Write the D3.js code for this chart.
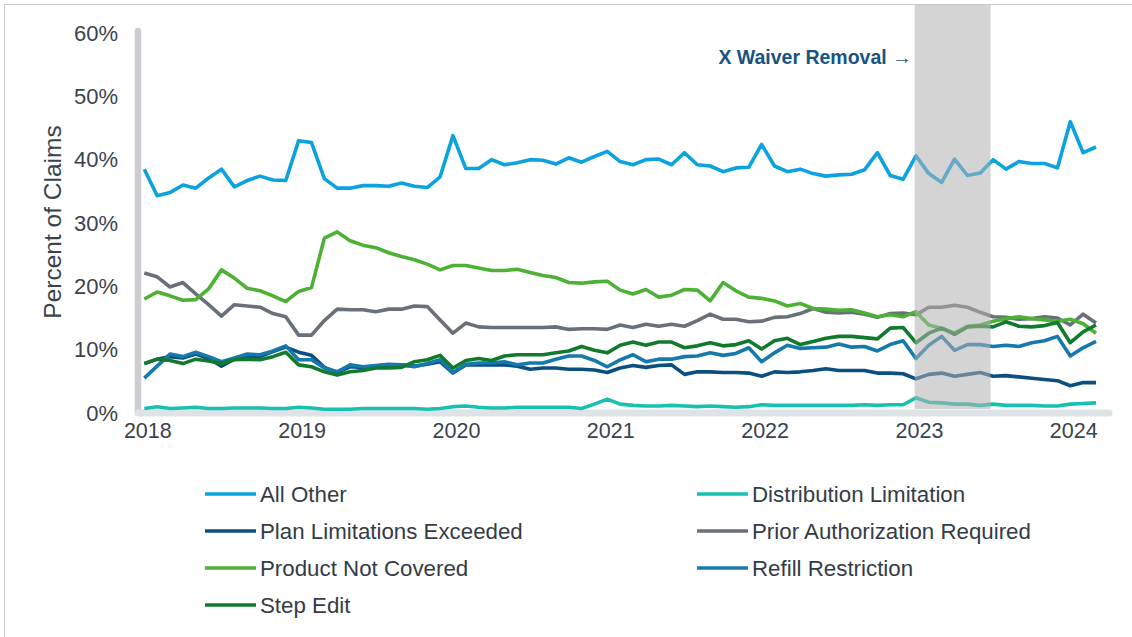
<!DOCTYPE html>
<html>
<head>
<meta charset="utf-8">
<script src="https://cdn.jsdelivr.net/npm/d3@7"></script>
<style>
  body { margin: 0; background: #fff; }
  svg { display: block; font-family: 'Liberation Sans', Arial, sans-serif; }
</style>
</head>
<body>
<div id="chart"></div>
<script>
// Monthly, Jan 2018 .. Mar 2024 (75 months), percent of claims
var yearLabels = ['2018', '2019', '2020', '2021', '2022', '2023', '2024'];
var yTicks = [0, 10, 20, 30, 40, 50, 60];

var allOther = [38.5,34.3,34.8,36.0,35.5,37.1,38.5,35.7,36.7,37.4,36.8,36.7,43.0,42.7,37.0,35.5,35.5,35.9,35.9,35.8,
  36.3,35.8,35.6,37.3,43.8,38.6,38.6,40.0,39.2,39.5,40.0,39.9,39.3,40.3,39.6,40.5,41.3,39.7,39.2,40.0,
  40.1,39.2,41.1,39.2,39.0,38.1,38.7,38.8,42.4,39.0,38.1,38.5,37.8,37.4,37.6,37.7,38.4,41.1,37.5,36.9,
  40.6,37.8,36.4,40.1,37.5,37.9,40.0,38.5,39.7,39.4,39.4,38.7,46.0,41.1,42.0];

var distributionLimitation = [0.7,1.0,0.7,0.8,0.9,0.7,0.7,0.8,0.8,0.8,0.7,0.7,0.9,0.8,0.6,0.6,0.6,0.7,0.7,0.7,
  0.7,0.7,0.6,0.7,1.0,1.1,0.9,0.8,0.8,0.9,0.9,0.9,0.9,0.9,0.7,1.4,2.2,1.4,1.2,1.1,
  1.1,1.2,1.1,1.0,1.1,1.0,0.9,1.0,1.3,1.2,1.2,1.2,1.2,1.2,1.2,1.2,1.3,1.2,1.3,1.3,
  2.4,1.7,1.6,1.4,1.4,1.2,1.4,1.2,1.2,1.2,1.1,1.1,1.4,1.5,1.6];

var planLimitations = [7.8,8.5,8.9,8.7,9.3,8.6,7.4,8.5,8.9,8.9,9.7,10.4,9.6,9.1,7.2,6.4,7.3,7.2,7.4,7.6,
  7.6,7.4,7.7,8.1,6.3,7.6,7.6,7.6,7.6,7.4,6.9,7.1,7.1,6.9,6.9,6.8,6.4,7.1,7.5,7.2,
  7.5,7.6,6.1,6.5,6.5,6.4,6.4,6.3,5.8,6.5,6.4,6.5,6.7,7.0,6.7,6.7,6.7,6.3,6.3,6.2,
  5.4,6.1,6.3,5.8,6.1,6.4,5.8,5.9,5.7,5.5,5.3,5.1,4.3,4.8,4.8];

var priorAuthorization = [22.1,21.5,19.9,20.6,18.8,17.1,15.3,17.1,16.9,16.7,15.7,15.2,12.3,12.3,14.6,16.4,16.3,16.3,16.0,16.4,
  16.4,16.9,16.8,14.7,12.6,14.2,13.6,13.5,13.5,13.5,13.5,13.5,13.6,13.2,13.3,13.3,13.2,13.9,13.5,14.0,
  13.7,14.0,13.7,14.6,15.6,14.8,14.8,14.4,14.5,15.1,15.2,15.7,16.5,15.9,15.8,15.9,15.6,15.1,15.7,15.8,
  15.5,16.7,16.7,17.0,16.7,15.9,15.2,15.1,14.8,14.9,15.2,15.0,13.9,15.6,14.2];

var productNotCovered = [18.0,19.1,18.5,17.8,17.9,19.6,22.6,21.3,19.7,19.3,18.5,17.6,19.2,19.8,27.6,28.6,27.2,26.5,26.1,25.3,
  24.7,24.2,23.5,22.6,23.3,23.3,22.9,22.5,22.5,22.7,22.2,21.7,21.4,20.6,20.5,20.7,20.8,19.4,18.8,19.5,
  18.3,18.6,19.5,19.4,17.7,20.6,19.3,18.3,18.1,17.7,16.9,17.3,16.5,16.4,16.2,16.3,15.8,15.2,15.5,15.2,
  16.0,13.9,13.4,12.6,13.7,13.9,14.5,14.9,15.2,14.9,14.7,14.5,14.8,14.1,12.6];

var refillRestriction = [5.5,7.4,9.3,8.9,9.6,8.9,8.1,8.7,9.3,9.2,9.8,10.6,8.4,8.4,7.1,6.5,7.6,7.3,7.5,7.7,
  7.6,7.3,7.8,8.4,6.4,7.7,7.9,7.9,8.1,7.6,7.9,7.9,8.5,9.0,9.0,8.3,7.3,8.4,9.2,8.1,
  8.5,8.5,8.9,9.0,9.5,9.1,9.4,10.3,8.1,9.5,10.7,10.2,10.3,10.4,10.9,10.4,10.5,9.8,10.8,11.4,
  8.6,10.7,12.1,9.9,10.8,10.8,10.5,10.7,10.5,11.1,11.4,12.1,9.0,10.3,11.3];

var stepEdit = [7.8,8.5,8.3,7.8,8.5,8.2,7.8,8.4,8.5,8.4,8.9,9.6,7.6,7.3,6.5,6.0,6.5,6.7,7.1,7.1,
  7.2,8.1,8.4,9.1,7.1,8.3,8.6,8.3,9.0,9.2,9.2,9.2,9.5,9.8,10.5,9.9,9.5,10.7,11.2,10.7,
  11.2,11.2,10.3,10.6,11.1,10.6,10.8,11.4,10.1,11.4,11.8,10.8,11.3,11.8,12.1,12.1,11.9,11.7,13.4,13.5,
  11.1,12.6,13.4,12.4,13.6,13.7,13.6,14.4,13.7,13.6,13.8,14.3,11.1,12.8,13.9];

// drawing order matches the legend order
var seriesNames = ['All Other', 'Distribution Limitation', 'Plan Limitations Exceeded',
  'Prior Authorization Required', 'Product Not Covered', 'Refill Restriction', 'Step Edit'];
var seriesValues = [allOther, distributionLimitation, planLimitations,
  priorAuthorization, productNotCovered, refillRestriction, stepEdit];
var seriesColors = ['#0aa3df', '#17c0b1', '#0b4f81', '#6a7077', '#4cb134', '#1679ad', '#127a2c'];

// X Waiver Removal band, in month index units
var shadeRange = [59.9, 65.8];
var annotation = 'X Waiver Removal \u2192';

var width = 1132, height = 637;
var fontFamily = "'Liberation Sans', Arial, sans-serif";

var svg = d3.select('#chart').append('svg')
  .attr('width', width)
  .attr('height', height);

svg.append('rect').attr('width', width).attr('height', height).attr('fill', '#fff');

// thin frame on the top and left edges
svg.append('path')
  .attr('d', 'M4.5,' + height + 'V4.5H' + width)
  .attr('fill', 'none')
  .attr('stroke', '#c9c9c9')
  .attr('stroke-width', 1);

var x = d3.scaleLinear().domain([0, 74]).range([144.3, 1096]);
var y = d3.scaleLinear().domain([0, 60]).range([413, 33]);

// axis bars
svg.append('line')
  .attr('x1', 138).attr('x2', 138)
  .attr('y1', 31).attr('y2', 412)
  .attr('stroke', '#cbcdd0')
  .attr('stroke-width', 6.5)
  .attr('stroke-linecap', 'round');

svg.append('line')
  .attr('x1', 138).attr('x2', 1109)
  .attr('y1', 413).attr('y2', 413)
  .attr('stroke', '#dde3e6')
  .attr('stroke-width', 7)
  .attr('stroke-linecap', 'round');

// y axis labels
var yAxis = d3.axisLeft(y)
  .tickValues(yTicks)
  .tickSize(0)
  .tickPadding(0)
  .tickFormat(function (d) { return d + '%'; });

var yAxisG = svg.append('g')
  .attr('transform', 'translate(118,0)')
  .call(yAxis);
yAxisG.select('.domain').remove();
yAxisG.selectAll('text')
  .attr('font-size', 22)
  .attr('font-family', fontFamily)
  .attr('fill', '#3a434c');

// x axis labels
var xAxis = d3.axisBottom(x)
  .tickValues(yearLabels.map(function (d, i) { return i * 12; }))
  .tickSize(0)
  .tickPadding(0)
  .tickFormat(function (d, i) { return yearLabels[i]; });

var xAxisG = svg.append('g')
  .attr('transform', 'translate(3,423)')
  .call(xAxis);
xAxisG.select('.domain').remove();
xAxisG.selectAll('text')
  .attr('font-size', 21.5)
  .attr('font-family', fontFamily)
  .attr('fill', '#3a434c');

svg.append('text')
  .attr('transform', 'translate(61,222) rotate(-90)')
  .attr('text-anchor', 'middle')
  .attr('font-size', 24.5)
  .attr('fill', '#3a434c')
  .text('Percent of Claims');

// series lines
var line = d3.line()
  .x(function (d, i) { return x(i); })
  .y(function (d) { return y(d); });

svg.append('g').selectAll('path')
  .data(seriesValues)
  .join('path')
  .attr('d', line)
  .attr('fill', 'none')
  .attr('stroke', function (d, i) { return seriesColors[i]; })
  .attr('stroke-width', 3.6)
  .attr('stroke-linejoin', 'round');

// shaded band sits over the lines
svg.append('rect')
  .attr('x', x(shadeRange[0]))
  .attr('width', x(shadeRange[1]) - x(shadeRange[0]))
  .attr('y', 5)
  .attr('height', 404)
  .attr('fill', '#b0b0b0')
  .attr('opacity', 0.55);

svg.append('text')
  .attr('x', x(shadeRange[0]) - 3)
  .attr('y', 64)
  .attr('text-anchor', 'end')
  .attr('font-size', 19.5)
  .attr('font-weight', 'bold')
  .attr('fill', '#175482')
  .text(annotation);

// legend, two columns filled row by row
var legendCols = [205, 697];
var legendRows = [494, 531, 568, 605];

var legend = svg.append('g').selectAll('g')
  .data(seriesNames)
  .join('g')
  .attr('transform', function (d, i) {
    return 'translate(' + legendCols[i % 2] + ',' + legendRows[Math.floor(i / 2)] + ')';
  });

legend.append('line')
  .attr('x1', 0).attr('x2', 51)
  .attr('stroke', function (d, i) { return seriesColors[i]; })
  .attr('stroke-width', 3.6);

legend.append('text')
  .attr('x', 55)
  .attr('dy', '0.35em')
  .attr('font-size', 22.3)
  .attr('fill', '#333c45')
  .text(function (d) { return d; });
</script>
</body>
</html>
